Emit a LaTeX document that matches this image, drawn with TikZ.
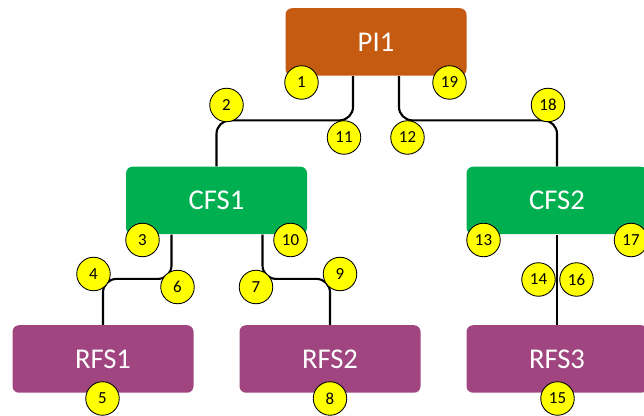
\documentclass[tikz,border=0pt]{standalone}
\usepackage{fontspec}
\setmainfont{Carlito}
\usepackage{xcolor}
\usepackage{tikz}
\usetikzlibrary{positioning,calc}
\definecolor{picolor}{RGB}{197, 90, 17}
\definecolor{cfscolor}{RGB}{0, 176, 80}
\definecolor{rfscolor}{RGB}{160, 69, 128}
\definecolor{stepyellow}{RGB}{255, 255, 0}

\begin{document}
\begin{tikzpicture}[
    box/.style={rectangle, rounded corners=0.13cm, minimum width=3.62cm, minimum height=1.35cm, align=center, text=white, font=\fontsize{16.3}{19}\selectfont},
    link/.style={line width=1.2pt, rounded corners=0.27cm},
    stepnum/.style={circle, draw=black, line width=0.5pt, fill=stepyellow, minimum size=0.67cm, inner sep=0pt, font=\fontsize{9.6}{11}\selectfont}
]
\useasboundingbox (0,0) rectangle (12.88,8.32);

\node[box, fill=picolor] (pi) at (7.52,7.48) {PI1};

\node[box, fill=cfscolor] (cfs1) at (4.33,4.31) {CFS1};
\node[box, fill=cfscolor] (cfs2) at (11.14,4.31) {CFS2};

\node[box, fill=rfscolor] (rfs1) at (2.06,1.14) {RFS1};
\node[box, fill=rfscolor] (rfs2) at (6.60,1.14) {RFS2};
\node[box, fill=rfscolor] (rfs3) at (11.14,1.14) {RFS3};

% tree links
\draw[link] ([xshift=-0.46cm]pi.south) |- ([yshift=0.92cm]cfs1.north) -- (cfs1.north);
\draw[link] ([xshift=0.46cm]pi.south) |- ([yshift=0.92cm]cfs2.north) -- (cfs2.north);
\draw[link] ([xshift=-0.9cm]cfs1.south) |- ([yshift=0.92cm]rfs1.north) -- (rfs1.north);
\draw[link] ([xshift=0.92cm]cfs1.south) |- ([yshift=0.92cm]rfs2.north) -- (rfs2.north);
\draw[link] (cfs2.south) -- (rfs3.north);

% numbered steps
\node[stepnum] (s1) at (6.03,6.67) {1};
\node[stepnum] (s2) at (4.53,6.22) {2};
\node[stepnum] (s3) at (2.85,3.52) {3};
\node[stepnum] (s4) at (1.87,2.84) {4};
\node[stepnum] (s5) at (2.05,0.35) {5};
\node[stepnum] (s6) at (3.55,2.58) {6};
\node[stepnum] (s7) at (5.12,2.58) {7};
\node[stepnum] (s8) at (6.60,0.35) {8};
\node[stepnum] (s9) at (6.80,2.84) {9};
\node[stepnum] (s10) at (5.81,3.52) {10};
\node[stepnum] (s11) at (6.88,5.57) {11};
\node[stepnum] (s12) at (8.15,5.57) {12};
\node[stepnum] (s13) at (9.67,3.52) {13};
\node[stepnum] (s14) at (10.77,2.73) {14};
\node[stepnum] (s15) at (11.15,0.35) {15};
\node[stepnum] (s16) at (11.53,2.73) {16};
\node[stepnum] (s17) at (12.62,3.52) {17};
\node[stepnum] (s18) at (10.96,6.22) {18};
\node[stepnum] (s19) at (8.99,6.67) {19};

\end{tikzpicture}
\end{document}
